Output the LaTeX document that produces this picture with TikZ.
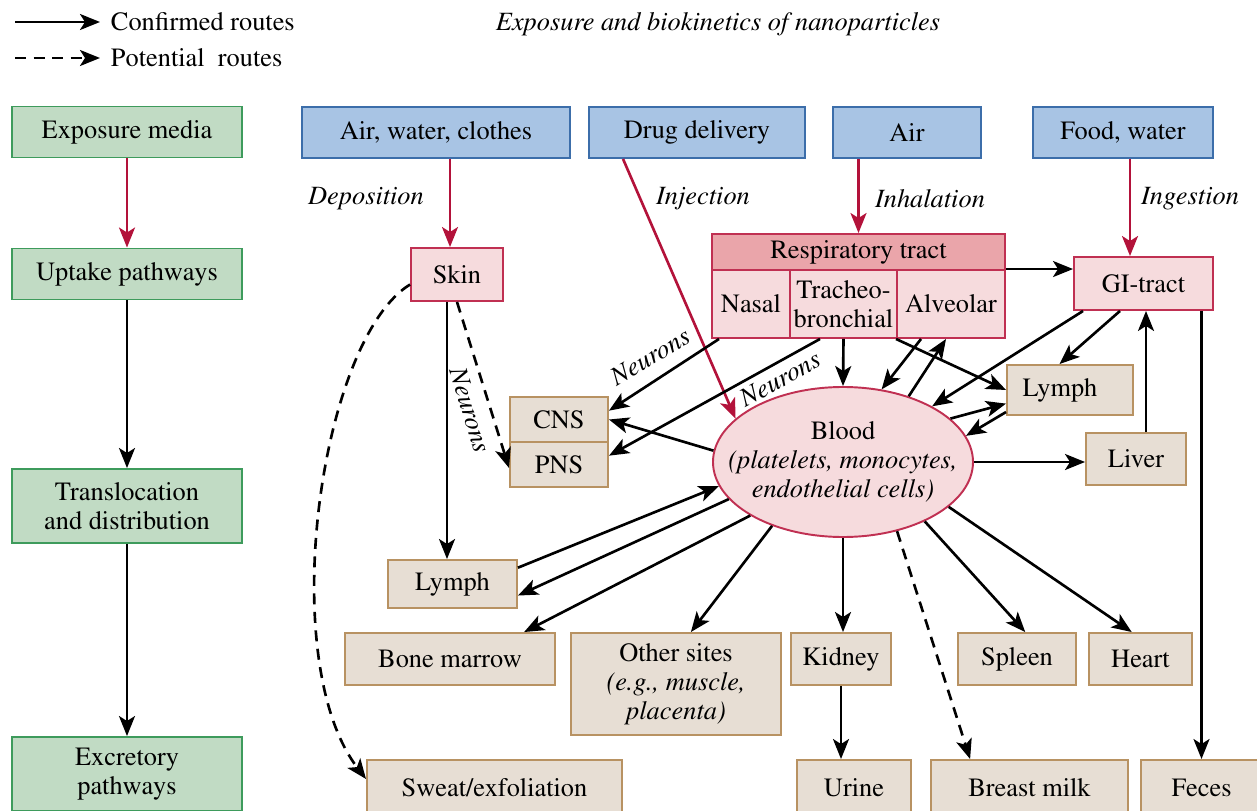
\documentclass[tikz,border=0pt]{standalone}
\usepackage[T1]{fontenc}
\usepackage{times}
\usetikzlibrary{arrows.meta,shapes.geometric}

\definecolor{stagefill}{HTML}{C1DBC4}
\definecolor{stageline}{HTML}{3E9B5C}
\definecolor{mediumfill}{HTML}{A8C4E4}
\definecolor{mediumline}{HTML}{3C6EAA}
\definecolor{portalfill}{HTML}{F6DBDD}
\definecolor{portalline}{HTML}{C03052}
\definecolor{respfill}{HTML}{EAA5AA}
\definecolor{organfill}{HTML}{E7DED4}
\definecolor{organline}{HTML}{B89262}
\definecolor{intakered}{HTML}{B3123A}

\begin{document}
\begin{tikzpicture}[
    x = 0.2mm, y = -0.2mm,
    box/.style = {draw, line width = 1.1pt, align = center, inner sep = 1pt,
                  font = \fontsize{15}{16.5}\selectfont},
    stage/.style = {box, fill = stagefill, draw = stageline,
                    minimum width = 46mm, minimum height = 10.2mm},
    medium/.style = {box, fill = mediumfill, draw = mediumline, minimum height = 10.2mm},
    portal/.style = {box, fill = portalfill, draw = portalline},
    organ/.style = {box, fill = organfill, draw = organline, minimum height = 10.4mm},
    via/.style = {font = \fontsize{15}{16.5}\selectfont\itshape, inner sep = 1pt},
    route/.style = {-{Stealth[length = 4mm, width = 3.2mm, inset = 1mm]}, line width = 1.5pt},
    potential/.style = {route, dash pattern = on 2.2mm off 1.5mm},
    intake/.style = {route, draw = intakered}]

\useasboundingbox (0,0) rectangle (1257,811);

% key and heading
\coordinate (keysolid) at (15,22);
\coordinate (keydash) at (15,58);
\node[box, draw = none, anchor = west, inner sep = 2mm] (confirmed) at (100,22) {Confirmed routes};
\node[box, draw = none, anchor = west, inner sep = 2mm] (possible) at (100,58) {Potential\ \ routes};
\draw[route] (keysolid) -- (confirmed.west);
\draw[potential] (keydash) -- (possible.west);
\node[via] (heading) at (718,24) {Exposure and biokinetics of nanoparticles};

% stages on the left
\node[stage] (expo) at (127,132) {Exposure media};
\node[stage] (uptake) at (127,274) {Uptake pathways};
\node[stage, minimum height = 14.8mm] (transl) at (127,506) {Translocation\\and distribution};
\node[stage, minimum height = 14.8mm] (excr) at (127,774) {Excretory\\pathways};

\draw[intake] (expo) -- (uptake);
\draw[route] (uptake) -- (transl);
\draw[route] (transl) -- (excr);

% exposure media
\node[medium, minimum width = 53.6mm] (airwater) at (436,132.5) {Air, water, clothes};
\node[medium, minimum width = 43.2mm] (drug) at (697,132.5) {Drug delivery};
\node[medium, minimum width = 29.6mm] (air) at (907,132.5) {Air};
\node[medium, minimum width = 36mm] (food) at (1123,132.5) {Food, water};

\node[via] (deposition) at (366,199) {Deposition};
\node[via] (injection) at (703,199) {Injection};
\node[via] (inhalation) at (930,199) {Inhalation};
\node[via] (ingestion) at (1190,199) {Ingestion};

% portals of entry
\node[portal, minimum width = 18.4mm, minimum height = 10.6mm] (skin) at (457,274.5) {Skin};
\node[portal, minimum width = 27.8mm, minimum height = 10.6mm] (gi) at (1143.5,283.5) {GI-tract};
\node[portal, fill = respfill, minimum width = 58.6mm, minimum height = 7.2mm] (resp) at (858.5,252) {Respiratory tract};
\node[portal, minimum width = 15.6mm, minimum height = 13.6mm] (nasal) at (751,304) {Nasal};
\node[portal, minimum width = 21.4mm, minimum height = 13.6mm] (trach) at (843.5,304) {Tracheo-\\bronchial};
\node[portal, minimum width = 21.6mm, minimum height = 13.6mm] (alv) at (951,304) {Alveolar};

% blood
\node[ellipse, draw = portalline, line width = 1.1pt, fill = portalfill,
      minimum width = 52mm, minimum height = 30mm] (blood) at (843,462) {};
\node[box, draw = none] (bloodtext) at (843,462)
    {Blood\\\textit{(platelets, monocytes,}\\\textit{endothelial cells)}};

% organs and sinks
\node[organ, minimum width = 19.6mm, minimum height = 9mm] (cns) at (559,419.5) {CNS};
\node[organ, minimum width = 19.6mm, minimum height = 9mm] (pns) at (559,464.5) {PNS};
\node[organ, minimum width = 25.2mm, minimum height = 10mm] (lymphR) at (1070,390) {Lymph\hspace{4mm}};
\node[organ, minimum width = 20mm] (liver) at (1136,459) {Liver};
\node[organ, minimum width = 25.8mm, minimum height = 9.6mm] (lymphL) at (452.5,584) {Lymph};
\node[organ, minimum width = 42mm] (marrow) at (450,659) {Bone marrow};
\node[organ, minimum width = 42mm, minimum height = 20.4mm] (other) at (676,684)
    {Other sites\\\textit{(e.g., muscle,}\\\textit{placenta)}};
\node[organ, minimum width = 20mm] (kidney) at (841,659) {Kidney};
\node[organ, minimum width = 23.6mm] (spleen) at (1017,659) {Spleen};
\node[organ, minimum width = 20.6mm] (heart) at (1140.5,659) {Heart};
\node[organ, minimum width = 51mm, minimum height = 11.2mm] (sweat) at (494.5,788) {Sweat/exfoliation};
\node[organ, minimum width = 22.8mm, minimum height = 11.2mm] (urine) at (854,788) {Urine};
\node[organ, minimum width = 39.4mm, minimum height = 11.2mm] (breast) at (1029.5,788) {Breast milk};
\node[organ, minimum width = 24.2mm, minimum height = 11.2mm] (feces) at (1201.5,788) {Feces};

% uptake
\draw[intake] ([xshift = -1.4mm]skin.north |- airwater.south) -- ([xshift = -1.4mm]skin.north);
\draw[intake] ([xshift = 7mm]drug.south west) -- (blood.158);
\draw[intake] (resp.north |- air.south) -- (resp.north);
\draw[intake] ([xshift = -2.7mm]gi.north |- food.south) -- ([xshift = -2.7mm]gi.north);

% from the skin
\draw[route] ([xshift = -2mm]skin.south) -- ([xshift = -2mm]skin.south |- lymphL.north);
\draw[potential] (skin.south) -- (pns.184);
\node[via, rotate = -73] (skinneurons) at (470,410) {Neurons};
\draw[potential] (skin.192) .. controls (320,340) and (275,660) .. (sweat.176);

% from the airways
\draw[route] (alv.north east) -- (alv.north east -| gi.west);
\draw[route] ([xshift = 1.6mm]nasal.south west) -- (cns.10);
\node[via, rotate = 31] (nasalneurons) at (650,357) {Neurons};
\draw[route] ([xshift = -4.7mm]trach.south) -- (pns.10);
\node[via, rotate = 29] (trachneurons) at (780,379) {Neurons};
\draw[route] (trach.south) -- (blood.north);
\draw[route] ([xshift = 5mm]alv.south west) -- (blood.62);
\draw[route] (blood.45) -- ([xshift = 10mm]alv.south west);
\draw[route] (alv.south west) -- (lymphR.west);

% gut, lymph and liver
\draw[route] ([xshift = 2mm]gi.south west) -- (blood.32);
\draw[route] ([xshift = -4.7mm]gi.south) -- (lymphR.112);
\draw[route] (blood.22) -- (lymphR.192);
\draw[route] (lymphR.199) -- (blood.12);
\draw[route] (blood.east) -- (blood.east -| liver.west);
\draw[route] ([xshift = 2mm]liver.north) -- ([xshift = 2mm]liver.north |- gi.south);
\draw[route] (gi.south -| feces.north) -- (feces.north);

% distribution from the blood
\draw[route] (blood.175) -- (cns.east);
\draw[route] (lymphL.14) -- (blood.191);
\draw[route] (blood.198) -- (lymphL.-10);
\draw[route] (blood.210) -- (marrow.20);
\draw[route] (blood.222) -- (other.74);
\draw[route] (blood.south) -- (blood.south |- kidney.north);
\draw[potential] (blood.308) -- (breast.154);
\draw[route] (blood.324) -- (spleen.73);
\draw[route] (blood.337) -- (heart.108);
\draw[route] (kidney.south) -- (kidney.south |- urine.north);
\end{tikzpicture}
\end{document}
